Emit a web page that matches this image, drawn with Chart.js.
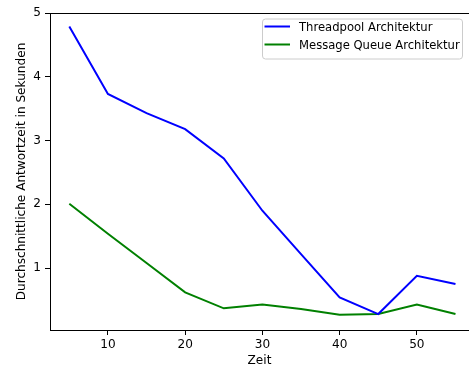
<!DOCTYPE html>
<html>
<head>
<meta charset="utf-8">
<script src="https://cdn.jsdelivr.net/npm/chart.js@4/dist/chart.umd.min.js"></script>
<style>
    html, body { margin: 0; padding: 0; background: #ffffff; }
    #wrap { width: 469px; height: 367px; }
</style>
</head>
<body>
<div id="wrap"><canvas id="responseChart"></canvas></div>
<script>
"use strict";

// measured average response times per time step
const times = [5, 10, 15, 20, 25, 30, 35, 40, 45, 50, 55];
const threadpool = [4.79, 3.73, 3.43, 3.18, 2.72, 1.90, 1.22, 0.54, 0.28, 0.88, 0.75];
const messageQueue = [2.01, 1.54, 1.08, 0.62, 0.37, 0.43, 0.36, 0.27, 0.28, 0.43, 0.28];
const seriesLabels = ["Threadpool Architektur", "Message Queue Architektur"];
const seriesColors = ["#0000ff", "#008000"];
const xTicks = [10, 20, 30, 40, 50];
const yTicks = [1, 2, 3, 4, 5];

const FONT = "'DejaVu Sans', sans-serif";
const FONT_SIZE = 12.1;
const LEGEND_FONT_SIZE = 11.6;

function toPoints(values)
{
    return times.map((t, i) => ({x: t, y: values[i]}));
}

// top spine plus a boxed legend in the upper right corner
const framePlugin = {
    id: "frame",
    afterDraw(chart) {
        const ctx = chart.ctx;
        const area = chart.chartArea;

        ctx.save();
        ctx.strokeStyle = "#000000";
        ctx.lineWidth = 1;
        ctx.beginPath();
        ctx.moveTo(area.left, area.top + 0.5);
        ctx.lineTo(area.right, area.top + 0.5);
        ctx.stroke();

        const boxRight = area.right - 7;
        const boxLeft = boxRight - 200;
        const boxTop = area.top + 5.5;
        const boxHeight = 40;

        ctx.fillStyle = "rgba(255,255,255,0.8)";
        ctx.strokeStyle = "#cccccc";
        ctx.lineWidth = 1;
        ctx.beginPath();
        ctx.roundRect(boxLeft + 0.5, boxTop + 0.5, boxRight - boxLeft, boxHeight, 3);
        ctx.fill();
        ctx.stroke();

        ctx.font = LEGEND_FONT_SIZE + "px " + FONT;
        ctx.textBaseline = "middle";
        ctx.textAlign = "left";
        chart.data.datasets.forEach((ds, i) => {
            const y = boxTop + 8 + i * 18;
            ctx.strokeStyle = ds.borderColor;
            ctx.lineWidth = 2;
            ctx.beginPath();
            ctx.moveTo(boxLeft + 2.5, y);
            ctx.lineTo(boxLeft + 28, y);
            ctx.stroke();
            ctx.fillStyle = "#000000";
            ctx.fillText(ds.label, boxLeft + 37, y + 1);
        });
        ctx.restore();
    }
};

new Chart(document.getElementById("responseChart"), {
    type: "line",
    data: {
        datasets: [
            {
                label: seriesLabels[0],
                data: toPoints(threadpool),
                borderColor: seriesColors[0],
                borderWidth: 2,
                pointRadius: 0,
                tension: 0,
                fill: false
            },
            {
                label: seriesLabels[1],
                data: toPoints(messageQueue),
                borderColor: seriesColors[1],
                borderWidth: 2,
                pointRadius: 0,
                tension: 0,
                fill: false
            }
        ]
    },
    options: {
        responsive: true,
        maintainAspectRatio: false,
        animation: false,
        layout: {padding: {top: 13, right: 0, left: 0, bottom: 0}},
        plugins: {
            legend: {display: false},
            tooltip: {enabled: false}
        },
        scales: {
            x: {
                type: "linear",
                min: 2.5,
                max: 56.75,
                afterBuildTicks: scale => { scale.ticks = xTicks.map(v => ({value: v})); },
                afterFit: scale => { scale.height = 37; },
                grid: {
                    drawOnChartArea: false,
                    drawTicks: true,
                    tickLength: 5,
                    tickColor: "#000000",
                    tickWidth: 1
                },
                border: {display: true, color: "#000000", width: 1},
                ticks: {
                    color: "#000000",
                    padding: 3,
                    maxRotation: 0,
                    font: {family: FONT, size: FONT_SIZE}
                },
                title: {
                    display: true,
                    text: "Zeit",
                    color: "#000000",
                    padding: 0,
                    font: {family: FONT, size: FONT_SIZE, lineHeight: 1}
                }
            },
            y: {
                type: "linear",
                min: 0.03,
                max: 5,
                afterBuildTicks: scale => { scale.ticks = yTicks.map(v => ({value: v})); },
                afterFit: scale => { scale.width = 50; },
                grid: {
                    drawOnChartArea: false,
                    drawTicks: true,
                    tickLength: 5,
                    tickColor: "#000000",
                    tickWidth: 1
                },
                border: {display: true, color: "#000000", width: 1},
                ticks: {
                    color: "#000000",
                    padding: 4,
                    font: {family: FONT, size: FONT_SIZE}
                },
                title: {
                    display: true,
                    text: "Durchschnittliche Antwortzeit in Sekunden",
                    color: "#000000",
                    padding: {top: 16, bottom: 0},
                    font: {family: FONT, size: FONT_SIZE, lineHeight: 1}
                }
            }
        }
    },
    plugins: [framePlugin]
});
</script>
</body>
</html>
